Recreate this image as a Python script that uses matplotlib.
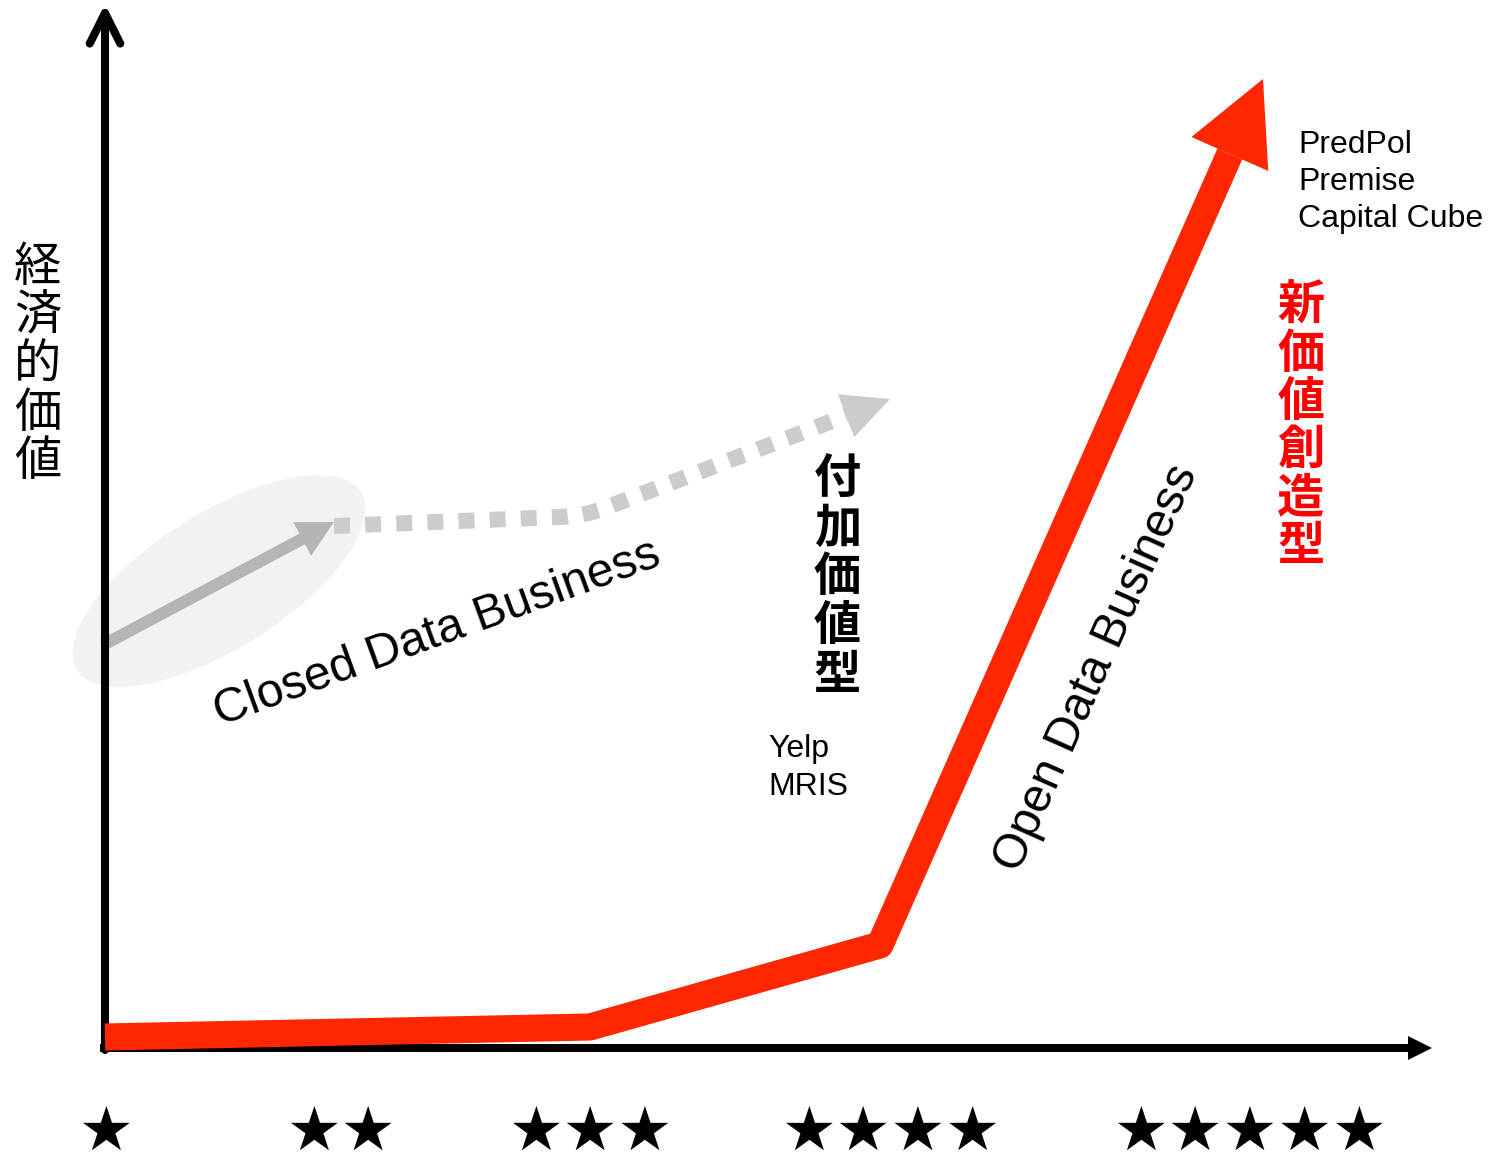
import numpy as np
import matplotlib
matplotlib.use("Agg")
import matplotlib.pyplot as plt
from matplotlib.patches import Ellipse, Polygon, PathPatch
from matplotlib.path import Path

# ---------------- data ----------------
level_labels = ['★', '★★', '★★★', '★★★★', '★★★★★']   # openness levels
level_x = [0.0, 23.6, 48.5, 78.6, 114.5]

# Open data business trajectory (last point = arrow tip)
open_x = [0.0, 48.5, 77.5, 115.8]
open_y = [1.1, 2.1, 10.3, 96.9]

# Closed data business arrow
closed_x = [-0.2, 22.9]
closed_y = [40.3, 52.6]

# Added-value (dotted) trajectory (last point = arrow tip)
addval_x = [22.9, 45.5, 48.0, 50.0, 78.5]
addval_y = [52.2, 53.1, 53.2, 54.0, 64.9]

y_label = '経済的価値'
added_label = '付加価値型'
new_label = '新価値創造型'
added_examples = ['Yelp', 'MRIS']
new_examples = ['PredPol', 'Premise', 'Capital Cube']

CJK = ['Noto Sans CJK JP', 'DejaVu Sans']
LAT = ['Liberation Sans', 'DejaVu Sans']

# ---------------- figure ----------------
fig = plt.figure(figsize=(14.93, 11.55), dpi=100)
ax = fig.add_axes([0, 0, 1, 1])
ax.set_xlim(-10.5, 138.8)
ax.set_ylim(-10.7, 104.8)
ax.axis('off')


def head(tip, prev, L, W):
    tip = np.array(tip, float)
    d = tip - np.array(prev, float)
    d /= np.hypot(*d)
    n = np.array([-d[1], d[0]])
    base = tip - L * d
    return base, [tip, base + W * n, base - W * n]


# ellipse highlight
ax.add_patch(Ellipse((11.4, 46.7), 33.5, 13.6, angle=32, fc='#F2F2F2', ec='none', zorder=1))

# closed data arrow
ax.arrow(closed_x[0], closed_y[0], closed_x[1] - closed_x[0], closed_y[1] - closed_y[0],
         width=1.2, head_width=3.8, head_length=3.6, length_includes_head=True,
         fc='#B5B5B5', ec='none', zorder=2)

# dotted added-value path
base, tri = head((addval_x[-1], addval_y[-1]), (addval_x[-2], addval_y[-2]), 4.7, 2.3)
verts = [(addval_x[0], addval_y[0]), (addval_x[1], addval_y[1]),
         (addval_x[2], addval_y[2]), (addval_x[3], addval_y[3]), tuple(base)]
codes = [Path.MOVETO, Path.LINETO, Path.CURVE3, Path.CURVE3, Path.LINETO]
ax.add_patch(PathPatch(Path(verts, codes), fc='none', ec='#CCCCCC', lw=11.5,
                       linestyle=(0, (1, 0.95)), capstyle='butt', zorder=2))
ax.add_patch(Polygon(tri, closed=True, fc='#CCCCCC', ec='none', zorder=2))

# axes
ax.annotate('', xy=(0, 104.4), xytext=(0, -0.2),
            arrowprops=dict(arrowstyle='->,head_length=0.4,head_width=0.2', lw=5.8,
                            color='black', mutation_scale=55, shrinkA=0, shrinkB=0,
                            capstyle='round', joinstyle='round'), zorder=2.5)
ax.arrow(-0.5, 0, 133.2, 0, width=0.8, head_width=2.4, head_length=2.4,
         length_includes_head=True, fc='black', ec='none', zorder=2.5)

# red open-data line
base, tri = head((open_x[-1], open_y[-1]), (open_x[-2], open_y[-2]), 8.2, 4.2)
ax.plot(open_x[:-1] + [base[0]], open_y[:-1] + [base[1]], color='#FF2600', lw=19.5,
        solid_joinstyle='round', solid_capstyle='butt', zorder=3)
ax.add_patch(Polygon(tri, closed=True, fc='#FF2600', ec='none', zorder=3))

# stars
for lx, lab in zip(level_x, level_labels):
    ax.text(lx, -8.5, lab, ha='center', va='center', fontsize=44,
            family=['DejaVu Sans'], color='black')

# vertical CJK labels
def vtext(x, y0, pitch, s, **kw):
    for i, ch in enumerate(s):
        ax.text(x, y0 - i * pitch, ch, ha='center', va='center', family=CJK, **kw)

vtext(-6.75, 78.0, 4.85, y_label, fontsize=34, color='black')
vtext(73.25, 56.8, 4.87, added_label, fontsize=34, color='black', fontweight='bold')
vtext(119.6, 74.2, 4.8, new_label, fontsize=34, color='#FF0000', fontweight='bold')

# rotated business labels
ax.text(33.2, 41.4, 'Closed Data Business', rotation=20, rotation_mode='anchor',
        ha='center', va='center', fontsize=34.5, family=LAT)
ax.text(99.2, 38.0, 'Open Data Business', rotation=66, rotation_mode='anchor',
        ha='center', va='center', fontsize=34.5, family=LAT)

# examples
for i, s in enumerate(added_examples):
    ax.text(66.3, 29.1 - i * 3.8, s, ha='left', va='baseline', fontsize=23, family=LAT)
for i, s in enumerate(new_examples):
    ax.text(119.3, 89.5 - i * 3.7, s, ha='left', va='baseline', fontsize=23, family=LAT)

fig.savefig('out.png', dpi=100)
